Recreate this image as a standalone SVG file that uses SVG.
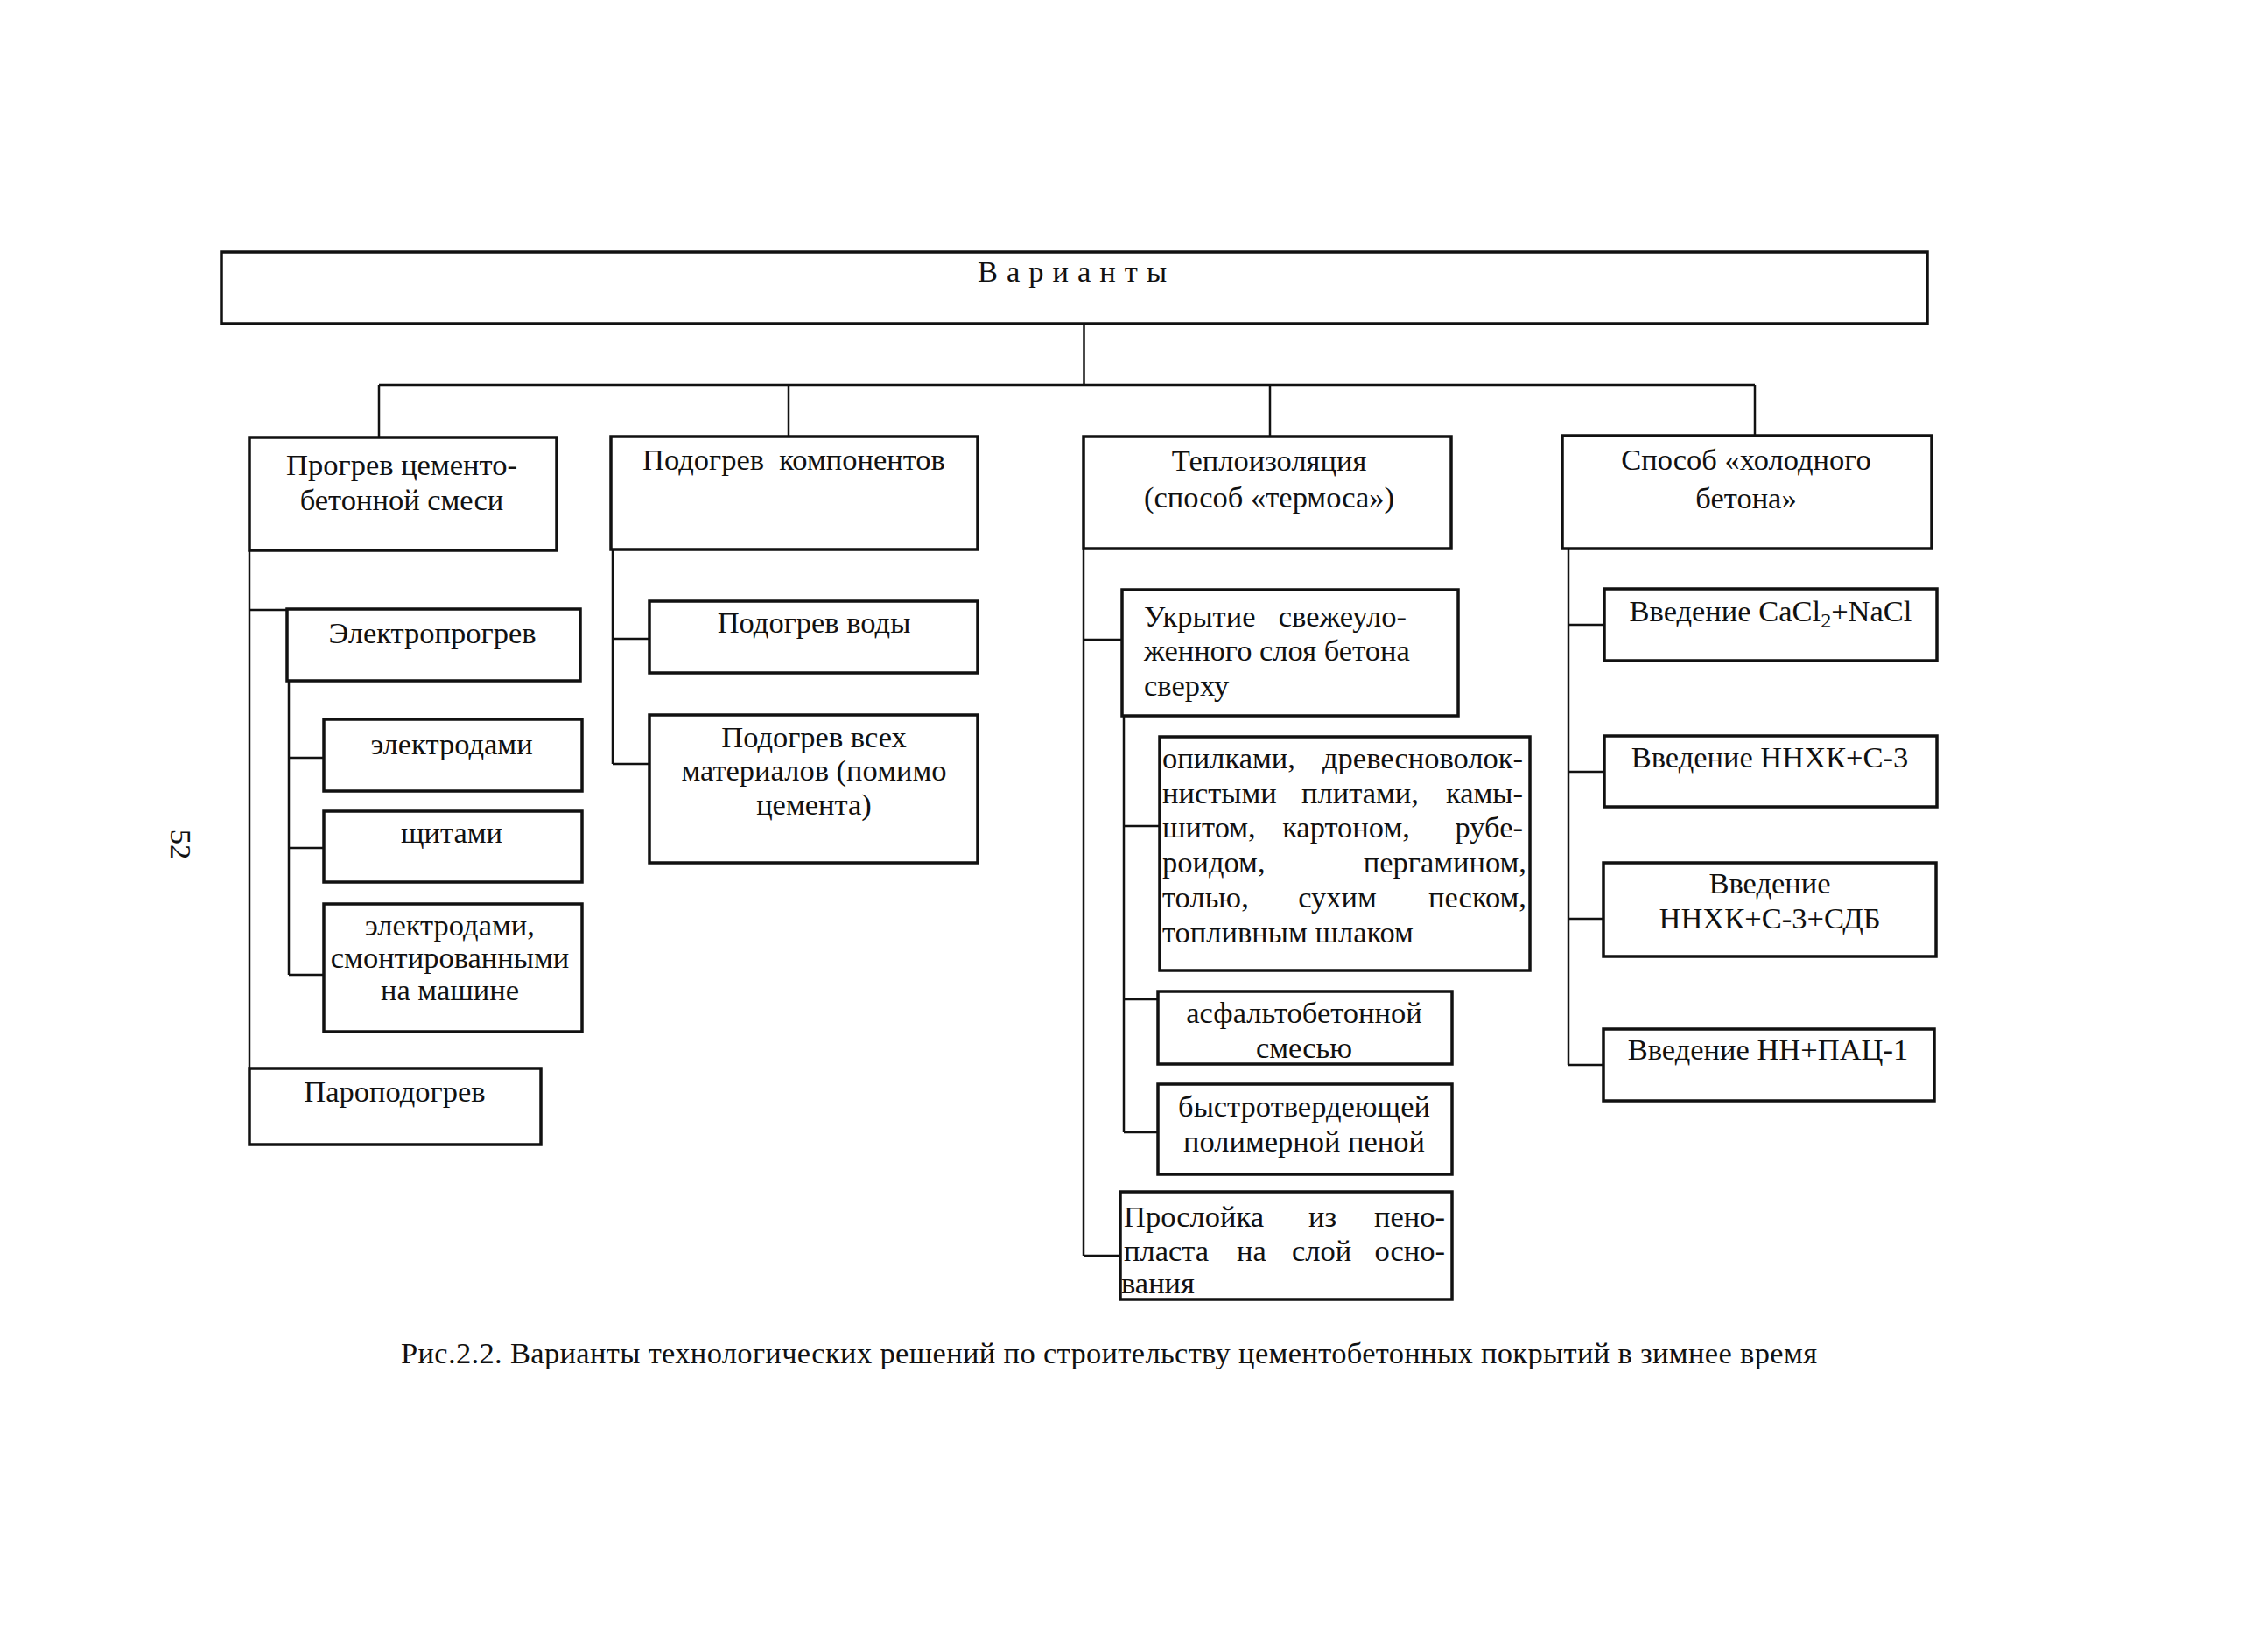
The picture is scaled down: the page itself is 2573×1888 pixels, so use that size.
<svg xmlns="http://www.w3.org/2000/svg" width="2573" height="1888" viewBox="0 0 2573 1888">
<style>
.box{fill:none;stroke:#111;stroke-width:3.5}
.conn{fill:none;stroke:#111;stroke-width:2.5}
text{font-family:"Liberation Serif","Times New Roman",serif;font-size:34.5px;fill:#111}
.c{text-anchor:middle}
.e{text-anchor:end}
.pre{white-space:pre}
</style>
<rect width="2573" height="1888" fill="#fff"/>
<g id="connectors">
<path class="conn" d="M1238.5 370V440M433 440H2005M433 440V500M901 440V499M1451 440V499M2005 440V498"/>
<path class="conn" d="M285 629V1221M285 697H328M330 778V1114M330 866H370M330 969H370M330 1114H370"/>
<path class="conn" d="M700 628V873M700 730H742M700 873H742"/>
<path class="conn" d="M1238 627V1435M1238 731H1282M1238 1435H1280M1284 818V1294M1284 944H1325M1284 1142H1323M1284 1294H1323"/>
<path class="conn" d="M1792 627V1217M1792 714H1833M1792 882H1833M1792 1050H1832M1792 1217H1832"/>
</g>
<g id="n-root"><rect class="box" x="253" y="288" width="1949" height="82"/><text x="1117" y="322" font-size="30" letter-spacing="10">Варианты</text></g>
<g id="n-progrev"><rect class="box" x="285" y="500" width="351" height="129"/><text class="c" x="459" y="543">Прогрев цементо-</text><text class="c" x="459" y="583">бетонной смеси</text></g>
<g id="n-podogrev"><rect class="box" x="698" y="499" width="419" height="129"/><text class="c pre" x="907" y="537">Подогрев  компонентов</text></g>
<g id="n-teplo"><rect class="box" x="1238" y="499" width="420" height="128"/><text class="c" x="1450" y="538">Теплоизоляция</text><text class="c" x="1450" y="580">(способ «термоса»)</text></g>
<g id="n-cold"><rect class="box" x="1785" y="498" width="422" height="129"/><text class="c" x="1995" y="537">Способ «холодного</text><text class="c" x="1995" y="581">бетона»</text></g>
<g id="n-elektro"><rect class="box" x="328" y="696" width="335" height="82"/><text class="c" x="494" y="735">Электропрогрев</text></g>
<g id="n-elektrody"><rect class="box" x="370" y="822" width="295" height="82"/><text class="c" x="516" y="862">электродами</text></g>
<g id="n-shchity"><rect class="box" x="370" y="927" width="295" height="81"/><text class="c" x="516" y="963">щитами</text></g>
<g id="n-mashina"><rect class="box" x="370" y="1033" width="295" height="146"/><text class="c" x="514" y="1069">электродами,</text><text class="c" x="514" y="1106">смонтированными</text><text class="c" x="514" y="1143">на машине</text></g>
<g id="n-par"><rect class="box" x="285" y="1221" width="333" height="87"/><text class="c" x="451" y="1259">Пароподогрев</text></g>
<g id="n-voda"><rect class="box" x="742" y="687" width="375" height="82"/><text class="c" x="930" y="723">Подогрев воды</text></g>
<g id="n-vse"><rect class="box" x="742" y="817" width="375" height="169"/><text class="c" x="930" y="854">Подогрев всех</text><text class="c" x="930" y="892">материалов (помимо</text><text class="c" x="930" y="931">цемента)</text></g>
<g id="n-ukrytie"><rect class="box" x="1282" y="674" width="384" height="144"/><text x="1307" y="716">Укрытие</text><text class="e" x="1607" y="716">свежеуло-</text><text x="1307" y="755">женного слоя бетона</text><text x="1307" y="795">сверху</text></g>
<g id="n-opilki"><rect class="box" x="1325" y="842" width="423" height="267"/>
<text x="1328" y="878">опилками,</text><text class="e" x="1740" y="878">древесноволок-</text>
<text x="1328" y="918">нистыми</text><text class="c" x="1554" y="918">плитами,</text><text class="e" x="1740" y="918">камы-</text>
<text x="1328" y="957">шитом,</text><text class="c" x="1538" y="957">картоном,</text><text class="e" x="1740" y="957">рубе-</text>
<text x="1328" y="997">роидом,</text><text class="e" x="1744" y="997">пергамином,</text>
<text x="1328" y="1037">толью,</text><text class="c" x="1528" y="1037">сухим</text><text class="e" x="1744" y="1037">песком,</text>
<text x="1328" y="1077">топливным шлаком</text></g>
<g id="n-asfalt"><rect class="box" x="1323" y="1133" width="336" height="83"/><text class="c" x="1490" y="1169">асфальтобетонной</text><text class="c" x="1490" y="1209">смесью</text></g>
<g id="n-pena"><rect class="box" x="1323" y="1239" width="336" height="103"/><text class="c" x="1490" y="1276">быстротвердеющей</text><text class="c" x="1490" y="1316">полимерной пеной</text></g>
<g id="n-prosloika"><rect class="box" x="1280" y="1362" width="379" height="123"/>
<text x="1284" y="1402">Прослойка</text><text class="c" x="1511" y="1402">из</text><text class="e" x="1651" y="1402">пено-</text>
<text x="1284" y="1441">пласта</text><text class="c" x="1430" y="1441">на</text><text class="c" x="1510" y="1441">слой</text><text class="e" x="1651" y="1441">осно-</text>
<text x="1281" y="1478">вания</text></g>
<g id="n-cacl"><rect class="box" x="1833" y="673" width="380" height="82"/><text class="c" x="2023" y="710">Введение CaCl<tspan font-size="24" dy="7">2</tspan><tspan dy="-7">+NaCl</tspan></text></g>
<g id="n-nnhk"><rect class="box" x="1833" y="841" width="380" height="81"/><text class="c" x="2022" y="877">Введение ННХК+С-3</text></g>
<g id="n-sdb"><rect class="box" x="1832" y="986" width="380" height="107"/><text class="c" x="2022" y="1021">Введение</text><text class="c" x="2022" y="1061">ННХК+С-3+СДБ</text></g>
<g id="n-pac"><rect class="box" x="1832" y="1176" width="378" height="82"/><text class="c" x="2020" y="1211">Введение НН+ПАЦ-1</text></g>
<text x="458" y="1558" font-size="32" textLength="1618" lengthAdjust="spacing">Рис.2.2. Варианты технологических решений по строительству цементобетонных покрытий в зимнее время</text>
<text class="c" transform="translate(206,965) rotate(90)" y="11" font-size="33">52</text>
</svg>
